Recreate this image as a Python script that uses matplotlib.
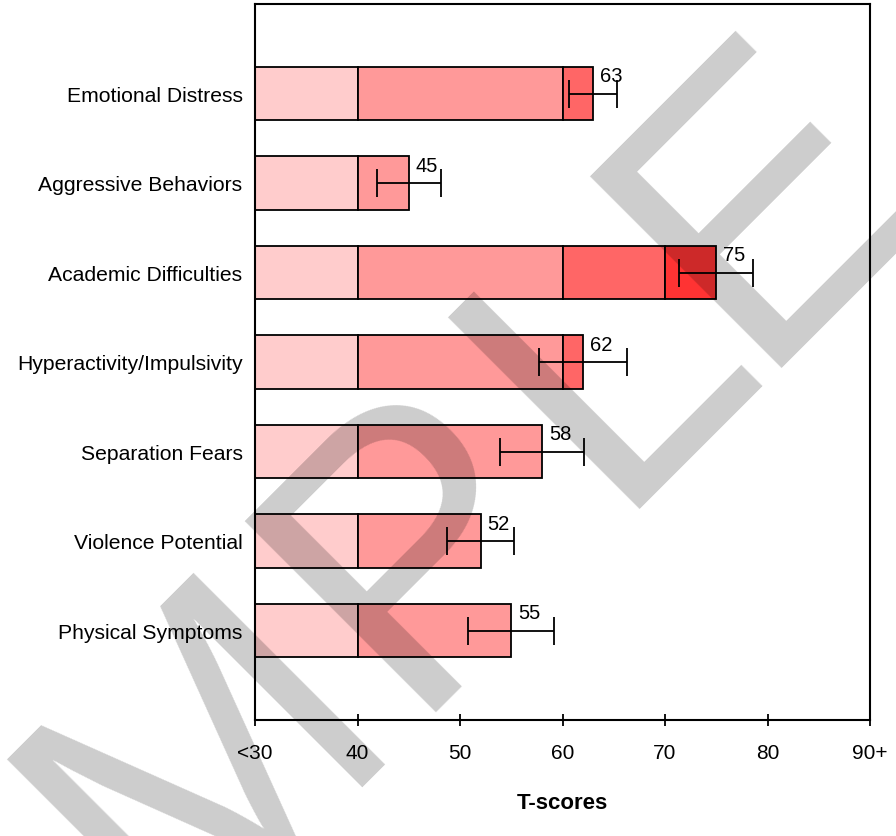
import matplotlib
matplotlib.use("Agg")
import matplotlib.pyplot as plt
import numpy as np

# ---- data ----
categories = ["Emotional Distress", "Aggressive Behaviors", "Academic Difficulties",
              "Hyperactivity/Impulsivity", "Separation Fears", "Violence Potential",
              "Physical Symptoms"]
scores = [63, 45, 75, 62, 58, 52, 55]
errors = [2.35, 3.1, 3.6, 4.3, 4.05, 3.3, 4.2]
band_edges = [30, 40, 60, 70, 90]
band_colors = ["#FFCCCC", "#FF9999", "#FF6666", "#FF3333"]
xtick_values = [30, 40, 50, 60, 70, 80, 90]
xtick_labels = ["<30", "40", "50", "60", "70", "80", "90+"]
x_title = "T-scores"
watermark = "SAMPLE"

plt.rcParams['font.family'] = ['Liberation Sans', 'DejaVu Sans']

W, H = 896, 837
fig = plt.figure(figsize=(W / 100, H / 100), dpi=100)
ax = fig.add_axes([255 / W, 1 - 721 / H, (870 - 255) / W, (721 - 5) / H])

ypos = np.arange(len(categories))
bar_h = 0.6
for yi, s in zip(ypos, scores):
    for lo, hi, col in zip(band_edges[:-1], band_edges[1:], band_colors):
        right = min(s, hi)
        if right > lo:
            ax.barh(yi, right - lo, left=lo, height=bar_h, color=col,
                    edgecolor="black", linewidth=1.3, zorder=2)

ax.errorbar(scores, ypos, xerr=errors, fmt="none", ecolor="black",
            elinewidth=1.3, capsize=10, capthick=1.3, zorder=3)

for yi, s in zip(ypos, scores):
    ax.annotate(str(s), xy=(s, yi), xytext=(5, 6), textcoords="offset points",
                ha="left", va="bottom", fontsize=14.5, color="black", zorder=4)

ax.set_xlim(band_edges[0], band_edges[-1])
ax.set_ylim(len(categories), -1)
ax.set_yticks(ypos)
ax.set_yticklabels(categories, fontsize=15.2)
ax.tick_params(axis="y", length=0, pad=9)
ax.set_xticks(xtick_values)
ax.set_xticklabels(xtick_labels, fontsize=15)
ax.tick_params(axis="x", direction="inout", length=9, width=1.3, pad=12)
for sp in ax.spines.values():
    sp.set_linewidth(1.5)
    sp.set_color("black")
ax.set_xlabel(x_title, fontsize=16, fontweight="bold", labelpad=22)

# watermark overlay: letters placed along a 45-degree baseline
# (s = distance along baseline, t = baseline offset, in pixels)
wm_offsets = [-1081, -818, -555, -218, 70, 270]
wm_t = 790
for ch, s_ in zip(watermark, wm_offsets):
    px = (s_ + wm_t) / np.sqrt(2)
    py = (wm_t - s_) / np.sqrt(2)
    fig.text(px / W, 1 - py / H, ch, fontsize=284, family="Liberation Sans",
             rotation=45, rotation_mode="anchor", ha="left", va="baseline",
             color="black", alpha=0.2, zorder=10)

fig.savefig("out.png", dpi=100)
